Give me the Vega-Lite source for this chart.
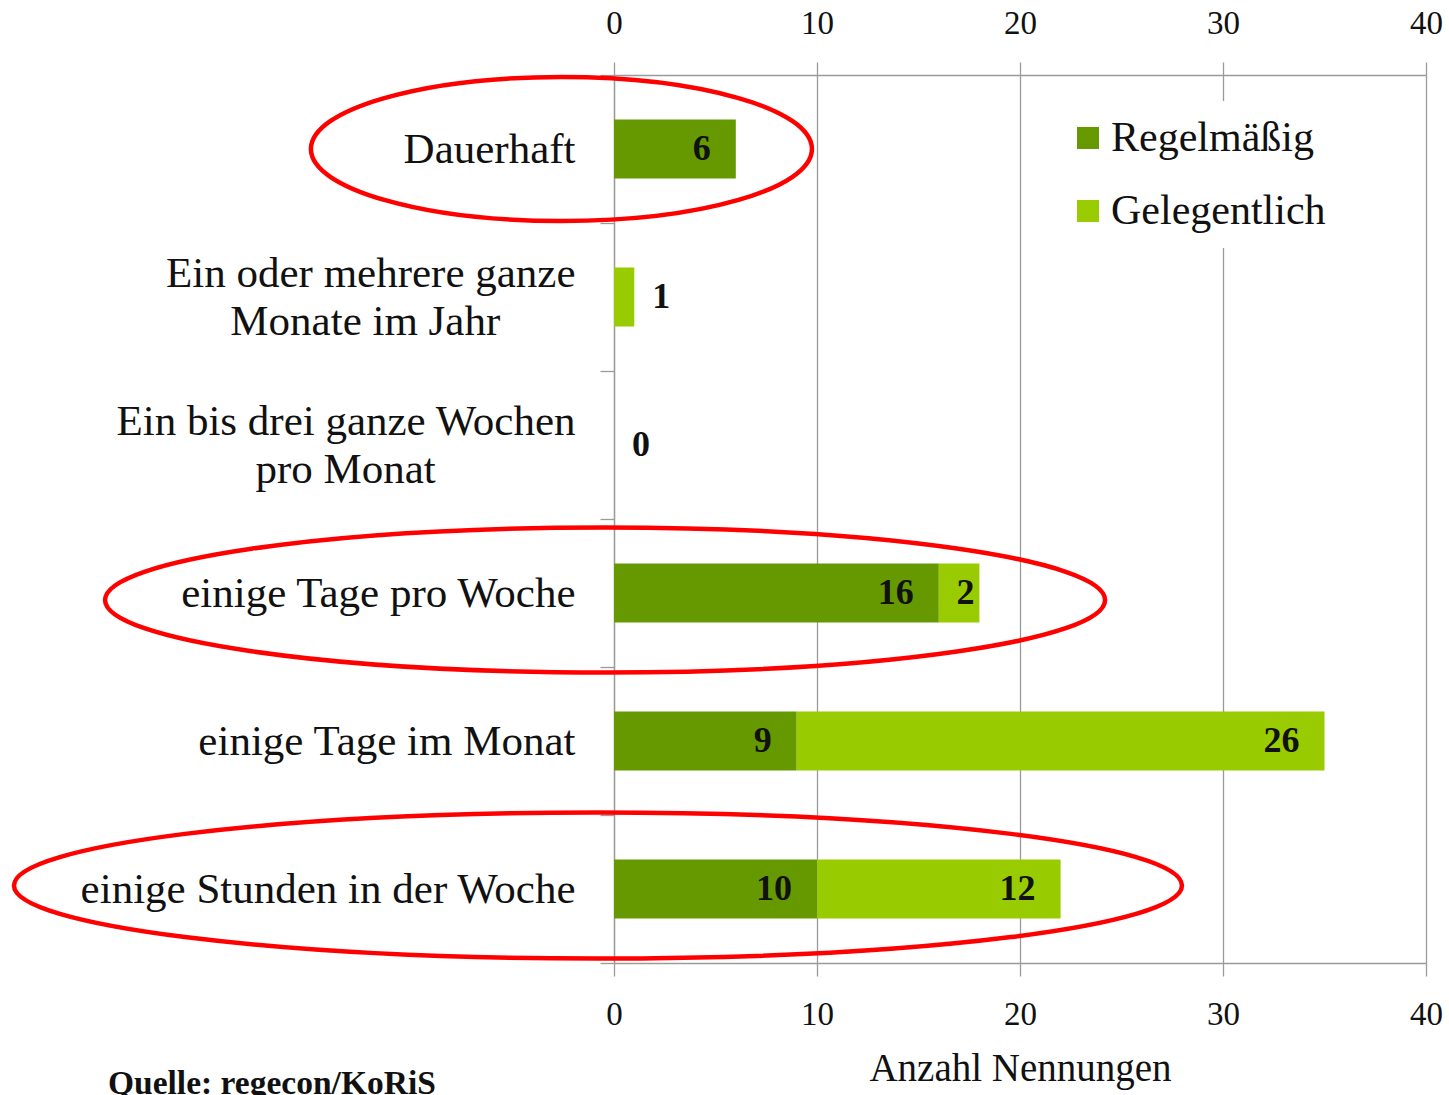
{
  "$schema": "https://vega.github.io/schema/vega-lite/v6.json",
  "width": 812,
  "height": 888,
  "autosize": "none",
  "padding": {"left": 614, "top": 75, "right": 23, "bottom": 132},
  "background": "white",
  "config": {
    "font": "Liberation Serif",
    "view": {"stroke": null},
    "axis": {"labelFont": "Liberation Serif", "titleFont": "Liberation Serif", "labelColor": "#111111", "titleColor": "#111111"}
  },
  "title": {
    "text": "Quelle: regecon/KoRiS",
    "orient": "bottom",
    "anchor": "start",
    "frame": "group",
    "dx": -506,
    "offset": -20,
    "baseline": "top",
    "font": "Liberation Serif",
    "fontSize": 33.5,
    "fontWeight": "bold",
    "color": "#111111"
  },
  "datasets": {
    "bars": [
      {"cat": "Dauerhaft", "series": "Regelmäßig", "value": 6},
      {"cat": "Ein oder mehrere ganze\nMonate im Jahr", "series": "Gelegentlich", "value": 1},
      {"cat": "Ein bis drei ganze Wochen\npro Monat", "series": "Gelegentlich", "value": 0},
      {"cat": "einige Tage pro Woche", "series": "Regelmäßig", "value": 16},
      {"cat": "einige Tage pro Woche", "series": "Gelegentlich", "value": 2},
      {"cat": "einige Tage im Monat", "series": "Regelmäßig", "value": 9},
      {"cat": "einige Tage im Monat", "series": "Gelegentlich", "value": 26},
      {"cat": "einige Stunden in der Woche", "series": "Regelmäßig", "value": 10},
      {"cat": "einige Stunden in der Woche", "series": "Gelegentlich", "value": 12}
    ],
    "rings": [
      {"cat": "Dauerhaft", "x": -2.59},
      {"cat": "einige Tage pro Woche", "x": -0.44},
      {"cat": "einige Stunden in der Woche", "x": -0.79}
    ]
  },
  "layer": [
    {
      "data": {"name": "bars"},
      "transform": [{"stack": "value", "groupby": ["cat"], "sort": [{"field": "series", "order": "descending"}], "as": ["v0", "v1"]}],
      "mark": {"type": "bar", "size": 59},
      "encoding": {
        "y": {
          "field": "cat", "type": "nominal",
          "sort": ["Dauerhaft", "Ein oder mehrere ganze\nMonate im Jahr", "Ein bis drei ganze Wochen\npro Monat", "einige Tage pro Woche", "einige Tage im Monat", "einige Stunden in der Woche"],
          "scale": {"paddingInner": 0, "paddingOuter": 0},
          "axis": {
            "title": null,
            "domainColor": "#9a9a9a",
            "domainWidth": 1.3,
            "tickColor": "#9a9a9a",
            "tickWidth": 1.3,
            "tickBand": "extent",
            "tickSize": 14,
            "labelPadding": 25,
            "labelFontSize": 43,
            "labelLineHeight": 24,
            "labelOffset": -24,
            "labelLimit": 1000,
            "labelExpr": "indexof(datum.label, '\\n') >= 0 ? [split(datum.label, '\\n')[0], '\u200b', pad(split(datum.label, '\\n')[1], length(split(datum.label, '\\n')[1]) + round(0.82 * (length(split(datum.label, '\\n')[0]) - length(split(datum.label, '\\n')[1]))), '\u00a0') + '\u200b'] : ['\u200b', datum.label]"
          }
        },
        "x": {
          "field": "v0", "type": "quantitative",
          "scale": {"domain": [0, 40], "nice": false},
          "axis": {
            "orient": "top",
            "values": [0, 10, 20, 30, 40],
            "title": null,
            "grid": true,
            "gridColor": "#9a9a9a",
            "gridWidth": 1.3,
            "domainColor": "#9a9a9a",
            "domainWidth": 1.3,
            "tickColor": "#9a9a9a",
            "tickWidth": 1.3,
            "tickSize": 13,
            "labelFlush": false,
            "labelPadding": 22,
            "labelFontSize": 33
          }
        },
        "x2": {"field": "v1"},
        "color": {
          "field": "series", "type": "nominal",
          "scale": {"domain": ["Regelmäßig", "Gelegentlich"], "range": ["#669900", "#99cc00"]},
          "legend": {
            "orient": "none",
            "legendX": 437,
            "legendY": 26,
            "fillColor": "white",
            "padding": 16,
            "title": null,
            "symbolType": "square",
            "symbolSize": 484,
            "symbolStrokeWidth": 0,
            "labelFontSize": 42,
            "labelFont": "Liberation Serif",
            "labelColor": "#111111",
            "labelLimit": 500,
            "labelOffset": 2,
            "rowPadding": 31,
            "zindex": 2
          }
        }
      }
    },
    {
      "data": {"name": "bars"},
      "transform": [
        {"stack": "value", "groupby": ["cat"], "sort": [{"field": "series", "order": "descending"}], "as": ["v0", "v1"]},
        {"filter": "datum.value >= 5"}
      ],
      "mark": {"type": "text", "align": "right", "baseline": "middle", "dx": -25, "font": "Liberation Serif", "fontWeight": "bold", "fontSize": 36, "color": "#111111"},
      "encoding": {
        "y": {"field": "cat", "type": "nominal", "sort": ["Dauerhaft", "Ein oder mehrere ganze\nMonate im Jahr", "Ein bis drei ganze Wochen\npro Monat", "einige Tage pro Woche", "einige Tage im Monat", "einige Stunden in der Woche"]},
        "x": {
          "field": "v1", "type": "quantitative",
          "scale": {"domain": [0, 40], "nice": false},
          "axis": {
            "orient": "bottom",
            "values": [0, 10, 20, 30, 40],
            "title": "Anzahl Nennungen",
            "titleFontSize": 39,
            "titleFontWeight": "normal",
            "titlePadding": 18,
            "grid": false,
            "domainColor": "#9a9a9a",
            "domainWidth": 1.3,
            "tickColor": "#9a9a9a",
            "tickWidth": 1.3,
            "tickSize": 13,
            "labelFlush": false,
            "labelPadding": 22,
            "labelFontSize": 33
          }
        },
        "text": {"field": "value", "type": "quantitative"}
      }
    },
    {
      "data": {"name": "bars"},
      "transform": [
        {"stack": "value", "groupby": ["cat"], "sort": [{"field": "series", "order": "descending"}], "as": ["v0", "v1"]},
        {"filter": "datum.value >= 2 && datum.value < 5"}
      ],
      "mark": {"type": "text", "align": "right", "baseline": "middle", "dx": -5, "font": "Liberation Serif", "fontWeight": "bold", "fontSize": 36, "color": "#111111"},
      "encoding": {
        "y": {"field": "cat", "type": "nominal", "sort": ["Dauerhaft", "Ein oder mehrere ganze\nMonate im Jahr", "Ein bis drei ganze Wochen\npro Monat", "einige Tage pro Woche", "einige Tage im Monat", "einige Stunden in der Woche"]},
        "x": {"field": "v1", "type": "quantitative", "scale": {"domain": [0, 40], "nice": false}, "axis": null},
        "text": {"field": "value", "type": "quantitative"}
      }
    },
    {
      "data": {"name": "bars"},
      "transform": [
        {"stack": "value", "groupby": ["cat"], "sort": [{"field": "series", "order": "descending"}], "as": ["v0", "v1"]},
        {"filter": "datum.value < 2"}
      ],
      "mark": {"type": "text", "align": "left", "baseline": "middle", "dx": 18, "font": "Liberation Serif", "fontWeight": "bold", "fontSize": 36, "color": "#111111"},
      "encoding": {
        "y": {"field": "cat", "type": "nominal", "sort": ["Dauerhaft", "Ein oder mehrere ganze\nMonate im Jahr", "Ein bis drei ganze Wochen\npro Monat", "einige Tage pro Woche", "einige Tage im Monat", "einige Stunden in der Woche"]},
        "x": {"field": "v1", "type": "quantitative", "scale": {"domain": [0, 40], "nice": false}, "axis": null},
        "text": {"field": "value", "type": "quantitative"}
      }
    },
    {
      "data": {"name": "rings"},
      "transform": [{"filter": "datum.cat == 'Dauerhaft'"}],
      "mark": {"type": "point", "filled": false, "stroke": "#ff0000", "strokeWidth": 4.5, "opacity": 1, "size": 251001,
        "shape": "M -1 0 C -1 -0.1587 -0.5523 -0.2874 0 -0.2874 C 0.5523 -0.2874 1 -0.1587 1 0 C 1 0.1587 0.5523 0.2874 0 0.2874 C -0.5523 0.2874 -1 0.1587 -1 0 Z"},
      "encoding": {
        "y": {"field": "cat", "type": "nominal", "sort": ["Dauerhaft", "Ein oder mehrere ganze\nMonate im Jahr", "Ein bis drei ganze Wochen\npro Monat", "einige Tage pro Woche", "einige Tage im Monat", "einige Stunden in der Woche"]},
        "x": {"field": "x", "type": "quantitative", "scale": {"domain": [0, 40], "nice": false}, "axis": null}
      }
    },
    {
      "data": {"name": "rings"},
      "transform": [{"filter": "datum.cat == 'einige Tage pro Woche'"}],
      "mark": {"type": "point", "filled": false, "stroke": "#ff0000", "strokeWidth": 4.5, "opacity": 1, "size": 1000000,
        "shape": "M -1 0.014 C -1 -0.0661 -0.5523 -0.131 0 -0.131 C 0.5523 -0.131 1 -0.0661 1 0.014 C 1 0.0941 0.5523 0.159 0 0.159 C -0.5523 0.159 -1 0.0941 -1 0.014 Z"},
      "encoding": {
        "y": {"field": "cat", "type": "nominal", "sort": ["Dauerhaft", "Ein oder mehrere ganze\nMonate im Jahr", "Ein bis drei ganze Wochen\npro Monat", "einige Tage pro Woche", "einige Tage im Monat", "einige Stunden in der Woche"]},
        "x": {"field": "x", "type": "quantitative", "scale": {"domain": [0, 40], "nice": false}, "axis": null}
      }
    },
    {
      "data": {"name": "rings"},
      "transform": [{"filter": "datum.cat == 'einige Stunden in der Woche'"}],
      "mark": {"type": "point", "filled": false, "stroke": "#ff0000", "strokeWidth": 4.5, "opacity": 1, "size": 1364224,
        "shape": "M -1 -0.006 C -1 -0.075 -0.5523 -0.131 0 -0.131 C 0.5523 -0.131 1 -0.075 1 -0.006 C 1 0.063 0.5523 0.119 0 0.119 C -0.5523 0.119 -1 0.063 -1 -0.006 Z"},
      "encoding": {
        "y": {"field": "cat", "type": "nominal", "sort": ["Dauerhaft", "Ein oder mehrere ganze\nMonate im Jahr", "Ein bis drei ganze Wochen\npro Monat", "einige Tage pro Woche", "einige Tage im Monat", "einige Stunden in der Woche"]},
        "x": {"field": "x", "type": "quantitative", "scale": {"domain": [0, 40], "nice": false}, "axis": null}
      }
    }
  ],
  "resolve": {"axis": {"x": "independent"}}
}
